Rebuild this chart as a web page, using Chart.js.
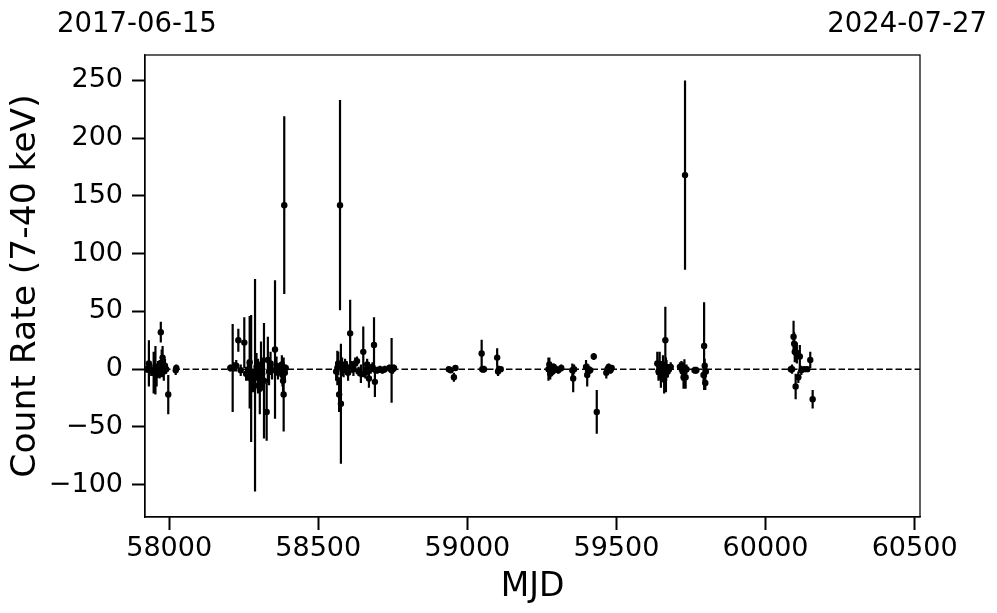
<!DOCTYPE html>
<html>
<head>
<meta charset="utf-8">
<script src="https://cdn.jsdelivr.net/npm/chart.js@4"></script>
<style>
  html, body { margin: 0; padding: 0; background: #fff; }
  canvas { display: block; }
</style>
</head>
<body>
<canvas id="lc" width="997" height="613"></canvas>
<script>
// light curve, 7-40 keV
const mjd = [
  57925, 57932, 57940, 57948, 57954, 57958, 57963, 57968, 57972, 57975, 57978, 57982, 57986, 57990, 57997, 58022, 58024,
  58205, 58213, 58218, 58225, 58232, 58240, 58252, 58258, 58264, 58270, 58275, 58282, 58288, 58293, 58298, 58304, 58308,
  58312, 58318, 58327, 58331, 58335, 58340, 58345, 58355, 58360, 58365, 58375, 58378, 58380, 58382, 58384, 58386, 58388, 58391,
  58560, 58564, 58567, 58570, 58573, 58576, 58580, 58585, 58590, 58595, 58600, 58607, 58612, 58618, 58624, 58630, 58635,
  58643, 58651, 58658, 58664, 58670, 58676, 58682, 58687, 58690, 58698, 58707, 58715, 58723, 58738, 58746, 58750, 58754,
  58938, 58944, 58955, 58960, 59048, 59050, 59056, 59100, 59103, 59106, 59112,
  59272, 59275, 59278, 59282, 59286, 59290, 59298, 59305, 59315, 59352, 59355, 59358, 59398, 59402, 59406, 59412, 59424, 59434,
  59466, 59470, 59474, 59480, 59484,
  59637, 59641, 59645, 59649, 59652, 59656, 59660, 59664, 59666, 59668, 59672, 59676, 59682, 59713, 59718, 59722, 59725,
  59728, 59730, 59732, 59735, 59762, 59768, 59792, 59794, 59796, 59798, 59800,
  60085, 60089, 60094, 60096, 60098, 60101, 60105, 60110, 60115, 60120, 60130, 60140, 60150, 60158
];
const rate = [
  0, 5, -1, -3, -1, -5, 2, 0, 32, 5, 10, -2, 3, 0, -22, -1, 1,
  1, 1, 2, 3, 25, -1, 23, -4, -2, 6, -8, -10, -14, 2, -6, -17, 4,
  -4, -10, -37, 8, -2, 5, -1, 17, 3, -3, 0, 4, -5, -10, -22, 142, -3, 1,
  -2, 1, 5, -22, 142, -30, 2, -1, 4, 1, -3, 31, 2, 0, 5, 7, -2,
  -4, 15, -3, 4, -8, 0, 2, 21, -11, -1, 0, -1, 0, 1, -1, 0, 1,
  0, -1, -7, 1, 13.5, 0, 0, 10, -2, 0, 0,
  0, 4, -4, 1, -2, 2, 0, -1, 1, -1, -8, 0, 2, -5, 0, -1, 11, -37,
  -3, 0, 2, -1, 1,
  5, -2, 3, -6, 1, 4, -9, 25, -5, 2, -2, 0, 2, 2, 2, -2, -7,
  0.5, 168, -7, 0, -1, -1, -5, 20, 3, -12, -2,
  0, 0, 28, 22, 15, -15, 14, -7, 11, -1, 0, 0, 8, -26
];
const rateErr = [
  3, 20, 5, 18, 21, 10, 5, 8, 9, 12, 10, 8, 6, 4, 17, 4, 3,
  3, 38, 4, 5, 10, 5, 22, 6, 8, 40, 55, 10, 92, 12, 15, 22, 20,
  14, 50, 25, 20, 12, 10, 8, 60, 8, 6, 4, 8, 10, 12, 32, 77, 6, 3,
  8, 15, 10, 15, 91, 52, 8, 6, 5, 6, 7, 29, 5, 6, 5, 4, 4,
  8, 22, 5, 5, 8, 4, 4, 24, 13, 3, 3, 3, 3, 3, 28, 4, 3,
  2, 2, 4, 2, 12, 3, 3, 8, 4, 3, 2,
  10, 6, 5, 4, 3, 3, 3, 3, 3, 6, 12, 4, 6, 10, 4, 3, 3, 19,
  5, 3, 3, 3, 2,
  10, 8, 12, 10, 6, 8, 12, 29, 15, 6, 5, 4, 4, 4, 5, 8, 10,
  8, 82, 10, 4, 3, 3, 8, 38, 6, 6, 5,
  3, 4, 14, 10, 9, 11, 9, 5, 10, 4, 2, 2, 7, 8
];

const X_MIN = 57919, X_MAX = 60518;
const Y_MIN = -128, Y_MAX = 272;
const xTicks = [58000, 58500, 59000, 59500, 60000, 60500];
const yTicks = [-100, -50, 0, 50, 100, 150, 200, 250];
const topLabels = ["2017-06-15", "2024-07-27"];
const FONT = "'DejaVu Sans', sans-serif";

const points = mjd.map((t, i) => ({ x: t, y: rate[i] }));

const errorBars = {
  id: "errorBars",
  beforeDatasetsDraw(chart) {
    const { ctx, scales: { x, y } } = chart;
    ctx.save();
    ctx.strokeStyle = "#000";
    ctx.lineWidth = 2.2;
    ctx.beginPath();
    mjd.forEach((t, i) => {
      const px = x.getPixelForValue(t);
      ctx.moveTo(px, y.getPixelForValue(rate[i] + rateErr[i]));
      ctx.lineTo(px, y.getPixelForValue(rate[i] - rateErr[i]));
    });
    ctx.stroke();
    ctx.restore();
  },
};

const frame = {
  id: "frame",
  afterDraw(chart) {
    const { ctx, chartArea: a } = chart;
    ctx.save();
    ctx.strokeStyle = "#000";
    ctx.lineWidth = 1.25;
    ctx.strokeRect(a.left, a.top, a.right - a.left, a.bottom - a.top);
    // date labels of the axis ends
    ctx.fillStyle = "#000";
    ctx.font = "27.5px " + FONT;
    ctx.textBaseline = "alphabetic";
    ctx.textAlign = "left";
    ctx.fillText(topLabels[0], 57, 32);
    ctx.textAlign = "right";
    ctx.fillText(topLabels[1], 987, 32);
    ctx.restore();
  },
};

const fmt = (v) => String(v).replace("-", "\u2212");
const setTicks = (list) => (s) => { s.ticks = list.map((v) => ({ value: v })); };

new Chart(document.getElementById("lc"), {
  type: "scatter",
  data: {
    datasets: [
      {
        type: "line",
        data: [{ x: X_MIN, y: 0 }, { x: X_MAX, y: 0 }],
        borderColor: "#000",
        borderWidth: 1.5,
        borderDash: [6.5, 3],
        pointRadius: 0,
        fill: false,
      },
      {
        data: points,
        backgroundColor: "#000",
        borderWidth: 0,
        pointRadius: 3.2,
      },
    ],
  },
  options: {
    responsive: false,
    animation: false,
    layout: { padding: { left: 0, top: 55, right: 77, bottom: 0 } },
    plugins: { legend: { display: false }, tooltip: { enabled: false } },
    scales: {
      x: {
        type: "linear",
        min: X_MIN,
        max: X_MAX,
        afterBuildTicks: setTicks(xTicks),
        afterFit: (s) => { s.height = 96; },
        ticks: {
          color: "#000",
          font: { family: FONT, size: 27 },
          padding: 3,
          maxRotation: 0,
          autoSkip: false,
          callback: fmt,
        },
        grid: { drawOnChartArea: false, tickLength: 13, tickWidth: 2, tickColor: "#000" },
        border: { color: "#000", width: 1.25 },
        title: { display: true, text: "MJD", color: "#000", font: { family: FONT, size: 33 }, padding: { top: 0, bottom: 6 } },
      },
      y: {
        min: Y_MIN,
        max: Y_MAX,
        afterBuildTicks: setTicks(yTicks),
        afterFit: (s) => { s.width = 145; },
        ticks: {
          color: "#000",
          font: { family: FONT, size: 27 },
          padding: 9,
          autoSkip: false,
          callback: fmt,
        },
        grid: { drawOnChartArea: false, tickLength: 13, tickWidth: 2, tickColor: "#000" },
        border: { color: "#000", width: 1.25 },
        title: { display: true, text: "Count Rate (7-40 keV)", color: "#000", font: { family: FONT, size: 34.5 }, padding: { top: 5, bottom: 0 } },
      },
    },
  },
  plugins: [errorBars, frame],
});
</script>
</body>
</html>
